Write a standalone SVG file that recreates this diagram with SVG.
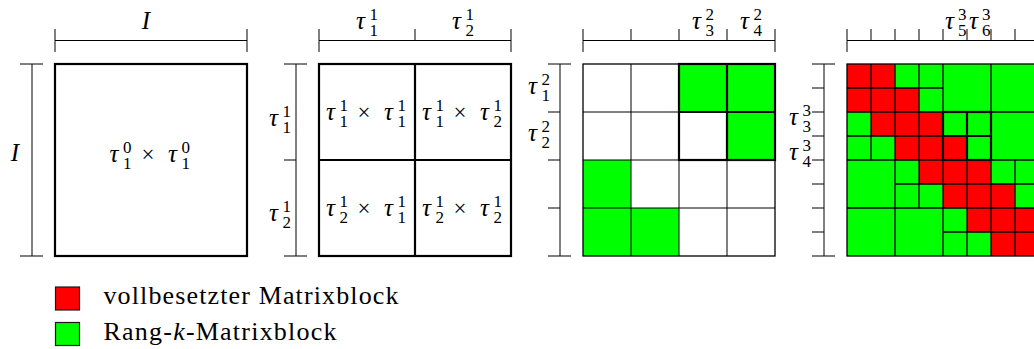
<svg xmlns="http://www.w3.org/2000/svg" width="1034" height="349" viewBox="0 0 1034 349">
<style>
text{font-family:'Liberation Serif',serif}
.m{font-size:25px;font-style:italic;fill:#000}
.s{font-style:normal;font-size:17px}
.op{font-style:normal;font-size:23px}
.t{font-size:26px;fill:#000}
.br{stroke:#000;stroke-width:1;fill:none}
.thick{stroke:#000;stroke-width:2.2;fill:none}
.grid{stroke:#000;stroke-width:1;fill:none}
.grid4{stroke:#000;stroke-width:1.3;fill:none}
.r{fill:#ff0000}
.g{fill:#00ff00}
.lg{stroke:#1a1a1a;stroke-width:1.2}
</style>
<rect width="1034" height="349" fill="#fff"/>

<g id="connectors">
  <path class="br" d="M55,40.5H247M55,29V52M247,29V52M32,64V256M20,64H43M20,256H43"/>
  <path class="br" d="M319,40.5H511M319,29V52M415,29V40.5M511,29V52M296,64V256M284,64H307M284,160H296M284,256H307"/>
  <path class="br" d="M583,40.5H775M583,29V52M631,29V40.5M679,29V40.5M727,29V40.5M775,29V52M560,64V256M548,64H571M548,112H560M548,160H560M548,208H560M548,256H571"/>
  <path class="br" d="M847,40.5H1039M847,29V52M871,29V40.5M895,29V40.5M919,29V40.5M943,29V40.5M967,29V40.5M991,29V40.5M1015,29V40.5M1039,29V52M824,64V256M812,64H835M812,88H824M812,112H824M812,136H824M812,160H824M812,184H824M812,208H824M812,232H824M812,256H835"/>
</g>

<g id="panel1">
  <rect class="thick" x="55" y="64" width="192" height="192"/>
  <text class="m" x="146" y="28.5" text-anchor="middle" font-size="22">I</text>
  <text class="m" x="15" y="161" text-anchor="middle" font-size="22">I</text>
  <text class="m" x="109.5" y="162">τ<tspan class="s" x="123" y="153">0</tspan><tspan class="s" x="123" y="169">1</tspan><tspan class="op" x="141.5" y="162">×</tspan><tspan x="168" y="162">τ</tspan><tspan class="s" x="181.5" y="153">0</tspan><tspan class="s" x="181.5" y="169">1</tspan></text>
</g>

<g id="panel2">
  <rect class="thick" x="319" y="64" width="192" height="192"/>
  <path class="thick" d="M415,64V256M319,160H511"/>
  <text class="m" x="356" y="28.5">τ<tspan class="s" x="369.5" y="19.5">1</tspan><tspan class="s" x="369.5" y="35.5">1</tspan></text>
  <text class="m" x="452" y="28.5">τ<tspan class="s" x="465.5" y="19.5">1</tspan><tspan class="s" x="465.5" y="35.5">2</tspan></text>
  <text class="m" x="269" y="125.5">τ<tspan class="s" x="282.5" y="116.5">1</tspan><tspan class="s" x="282.5" y="132.5">1</tspan></text>
  <text class="m" x="269" y="220.5">τ<tspan class="s" x="282.5" y="211.5">1</tspan><tspan class="s" x="282.5" y="227.5">2</tspan></text>
  <text class="m" x="326" y="120">τ<tspan class="s" x="339.5" y="111">1</tspan><tspan class="s" x="339.5" y="127">1</tspan><tspan class="op" x="357.5" y="120">×</tspan><tspan x="384" y="120">τ</tspan><tspan class="s" x="397.5" y="111">1</tspan><tspan class="s" x="397.5" y="127">1</tspan></text>
  <text class="m" x="422" y="120">τ<tspan class="s" x="435.5" y="111">1</tspan><tspan class="s" x="435.5" y="127">1</tspan><tspan class="op" x="453.5" y="120">×</tspan><tspan x="480" y="120">τ</tspan><tspan class="s" x="493.5" y="111">1</tspan><tspan class="s" x="493.5" y="127">2</tspan></text>
  <text class="m" x="326" y="216">τ<tspan class="s" x="339.5" y="207">1</tspan><tspan class="s" x="339.5" y="223">2</tspan><tspan class="op" x="357.5" y="216">×</tspan><tspan x="384" y="216">τ</tspan><tspan class="s" x="397.5" y="207">1</tspan><tspan class="s" x="397.5" y="223">1</tspan></text>
  <text class="m" x="422" y="216">τ<tspan class="s" x="435.5" y="207">1</tspan><tspan class="s" x="435.5" y="223">2</tspan><tspan class="op" x="453.5" y="216">×</tspan><tspan x="480" y="216">τ</tspan><tspan class="s" x="493.5" y="207">1</tspan><tspan class="s" x="493.5" y="223">2</tspan></text>
</g>

<g id="panel3">
  <rect class="g" x="679" y="64" width="96" height="48"/>
  <rect class="g" x="727" y="112" width="48" height="48"/>
  <rect class="g" x="583" y="160" width="48" height="96"/>
  <rect class="g" x="631" y="208" width="48" height="48"/>
  <path class="grid" d="M631,64V256M679,64V256M727,64V256M583,112H775M583,160H775M583,208H775"/>
  <rect class="grid4" x="583" y="64" width="192" height="192"/>
  <rect class="thick" x="679" y="64" width="96" height="96"/>
  <path class="thick" d="M727,64V160M679,112H775"/>
  <text class="m" x="692" y="28.5">τ<tspan class="s" x="705.5" y="19.5">2</tspan><tspan class="s" x="705.5" y="35.5">3</tspan></text>
  <text class="m" x="740" y="28.5">τ<tspan class="s" x="753.5" y="19.5">2</tspan><tspan class="s" x="753.5" y="35.5">4</tspan></text>
  <text class="m" x="528" y="94">τ<tspan class="s" x="541.5" y="85">2</tspan><tspan class="s" x="541.5" y="101">1</tspan></text>
  <text class="m" x="528" y="140.5">τ<tspan class="s" x="541.5" y="131.5">2</tspan><tspan class="s" x="541.5" y="147.5">2</tspan></text>
</g>

<g id="panel4">
  <rect class="g" x="847" y="64" width="192" height="192"/>
  <path class="r" d="M847,64h48v24h-48zM847,88h72v24h-72zM871,112h72v24h-72zM895,136h72v24h-72zM919,160h72v24h-72zM943,184h72v24h-72zM967,208h72v24h-72zM991,232h48v24h-48z"/>
  <path class="grid4" d="M943,64V256M847,160H1039M871,64V160M895,64V160M919,64V160M847,88H943M847,112H943M847,136H943M991,64V160M943,112H1039M895,160V256M847,208H943M991,160V256M943,208H1039M919,160V208M895,184H943M967,160V208M943,184H991M1015,160V208M991,184H1039M967,208V256M943,232H991M1015,208V256M991,232H1039"/>
  <rect class="grid4" x="847" y="64" width="192" height="192"/>
  <rect class="thick" x="943" y="112" width="48" height="48"/>
  <path class="thick" d="M967,112V160M943,136H991"/>
  <text class="m" x="945" y="28.5">τ<tspan class="s" x="958" y="19.5">3</tspan><tspan class="s" x="958" y="35.5">5</tspan></text>
  <text class="m" x="969" y="28.5">τ<tspan class="s" x="982" y="19.5">3</tspan><tspan class="s" x="982" y="35.5">6</tspan></text>
  <text class="m" x="789" y="125">τ<tspan class="s" x="802.5" y="116">3</tspan><tspan class="s" x="802.5" y="132">3</tspan></text>
  <text class="m" x="789" y="159.5">τ<tspan class="s" x="802.5" y="150.5">3</tspan><tspan class="s" x="802.5" y="166.5">4</tspan></text>
</g>

<g id="legend-full">
  <rect class="r lg" x="55.5" y="287" width="24" height="23"/>
  <text class="t" x="103.5" y="304" textLength="295">vollbesetzter Matrixblock</text>
</g>
<g id="legend-rank">
  <rect class="g lg" x="55.5" y="322.5" width="24" height="23"/>
  <text class="t" x="103.5" y="340" textLength="233">Rang-<tspan font-style="italic">k</tspan>-Matrixblock</text>
</g>
</svg>
